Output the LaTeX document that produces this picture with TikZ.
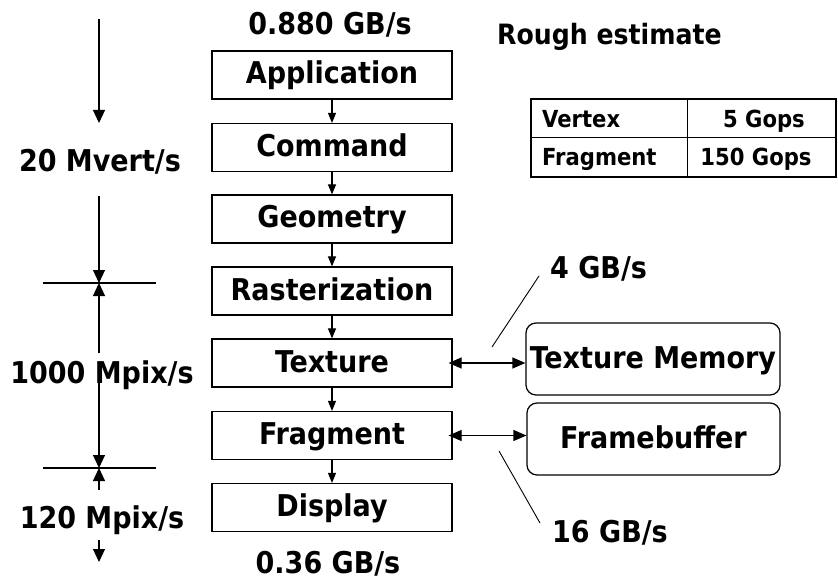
\documentclass[tikz,border=0pt]{standalone}
\usepackage{fontspec}
\IfFontExistsTF{DejaVu Sans Condensed}
  {\setmainfont{DejaVu Sans Condensed}}
  {\setmainfont{DejaVu Sans}}
\usetikzlibrary{arrows.meta}
\begin{document}
\begin{tikzpicture}[x=1pt,y=-1pt,
  big/.style={font=\bfseries\fontsize{30}{34}\selectfont},
  small/.style={font=\bfseries\fontsize{23.5}{27}\selectfont},
  stage/.style={big, draw, line width=1.2pt, minimum width=240pt,
    minimum height=48pt, inner sep=0pt, text height=21.5pt, text depth=3.5pt},
  memory/.style={big, draw, line width=1.2pt, rounded corners=10pt,
    inner sep=0pt, text height=21.5pt, text depth=3.5pt},
  lbl/.style={big, inner sep=0pt, anchor=base},
  cell/.style={small, inner sep=0pt, anchor=base},
  flow/.style={-{Triangle[length=10pt,width=8pt]}, line width=1.1pt},
  rate/.style={-{Triangle[length=13pt,width=12pt]}, line width=1.2pt},
  link/.style={{Triangle[length=13pt,width=11pt]}-{Triangle[length=13pt,width=11pt]}, line width=1.2pt},
  leader/.style={line width=0.9pt},
]
\useasboundingbox (0,0) rectangle (838,580);

% pipeline stages
\node[stage] (app)  at (332,75)    {Application};
\node[stage] (cmd)  at (332,147.5) {Command};
\node[stage] (geo)  at (332,219)   {Geometry};
\node[stage] (rast) at (332,291)   {Rasterization};
\node[stage] (tex)  at (332,363)   {Texture};
\node[stage] (frag) at (332,435.5) {Fragment};
\node[stage] (disp) at (332,507.5) {Display};

\foreach \a/\b in {app/cmd, cmd/geo, geo/rast, rast/tex, tex/frag, frag/disp}
  \draw[flow] (\a.south) -- (\b.north);

% bandwidth in and out of the pipeline
\node[lbl] (inbw)  at (330,35)  {0.880 GB/s};
\node[lbl] (outbw) at (328,573) {0.36 GB/s};

% memories
\node[memory, minimum width=254pt, minimum height=72pt] (tmem) at (653,359) {Texture Memory};
\node[memory, minimum width=253pt, minimum height=72pt] (fbuf) at (653.5,439) {Framebuffer};
\draw[link] ([xshift=-4pt]tex.east) -- (tex.east -| tmem.west);
\draw[link] ([xshift=-4pt]frag.east) -- (frag.east -| fbuf.west);

% memory bandwidth labels with leader lines
\node[lbl, anchor=base west] (tbw) at (550,278) {4 GB/s};
\node[lbl, anchor=base west] (fbw) at (552,542) {16 GB/s};
\coordinate (t1) at (539,276);
\coordinate (t2) at (492,347);
\coordinate (f1) at (499,451);
\coordinate (f2) at (540,523);
\draw[leader] (t1) -- (t2);
\draw[leader] (f1) -- (f2);

% rates along the left side
\node[lbl] (vrate) at (100,172) {20 Mvert/s};
\node[lbl] (prate) at (102,383) {1000 Mpix/s};
\node[lbl] (drate) at (102,528) {120 Mpix/s};
\coordinate (v0) at (99,19);
\coordinate (v1) at (99,123);
\coordinate (v2) at (99,196);
\coordinate (m1) at (99,283);
\coordinate (p1) at (99,353);
\coordinate (p2) at (99,378);
\coordinate (m2) at (99,468);
\coordinate (d1) at (99,490);
\coordinate (d2) at (99,540);
\coordinate (d3) at (99,562);
\draw[rate] (v0) -- (v1);
\draw[rate] (v2) -- (m1);
\draw[rate] (p1) -- (m1);
\draw[rate] (p2) -- (m2);
\draw[rate] (d1) -- (m2);
\draw[rate] (d2) -- (d3);
\draw[line width=1.2pt] (43,283) -- (156,283);
\draw[line width=1.2pt] (43,468) -- (156,468);

% rough estimate table
\node[lbl, anchor=base west, font=\bfseries\fontsize{28}{32}\selectfont] (rough) at (497,45) {Rough estimate};
\draw[line width=0.9pt] (531,137) -- (836,137) (687,99) -- (687,177);
\draw[line width=2pt] (531,99) rectangle (836,177);
\node[cell, anchor=base west] (vtx)  at (542,128) {Vertex};
\node[cell] (vops) at (764,128) {5 Gops};
\node[cell, anchor=base west] (frg)  at (542,166) {Fragment};
\node[cell] (fops) at (756,166) {150 Gops};
\end{tikzpicture}
\end{document}
